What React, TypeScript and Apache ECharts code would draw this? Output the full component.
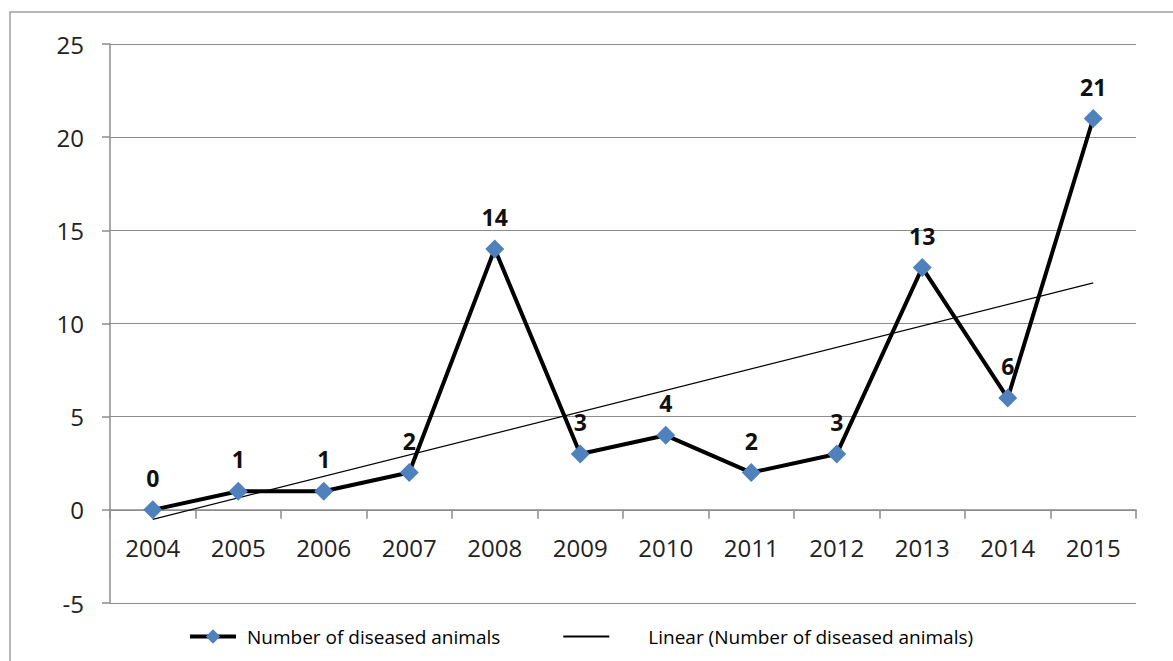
import React, { useEffect, useRef } from "react";
import * as echarts from "echarts";

const years = ["2004", "2005", "2006", "2007", "2008", "2009", "2010", "2011", "2012", "2013", "2014", "2015"];
const diseased = [0, 1, 1, 2, 14, 3, 4, 2, 3, 13, 6, 21];
// Linear trendline endpoints (first and last category)
const trendEnds = [-0.51, 12.18];
const yTicks = { min: -5, max: 25, interval: 5 };

const FONT = "'Open Sans', 'Liberation Sans', sans-serif";
const GRID = "#8c8c8c";

export default function App() {
  const ref = useRef<HTMLDivElement>(null);
  useEffect(() => {
    if (!ref.current) return;
    const chart = echarts.init(ref.current, null, { renderer: "svg" });
    chart.setOption({
      animation: false,
      backgroundColor: "#ffffff",
      textStyle: { fontFamily: FONT },
      graphic: [
        {
          type: "rect",
          shape: { x: 10, y: 12, width: 1200, height: 700 },
          style: { fill: "none", stroke: "#a0a0a0", lineWidth: 1.5 },
          silent: true,
        },
      ],
      grid: { left: 110, right: 37, top: 44, bottom: 58, containLabel: false },
      legend: {
        left: 183,
        top: 622,
        itemGap: 62,
        itemWidth: 46,
        itemHeight: 18,
        textStyle: { fontSize: 19, color: "#000", fontFamily: FONT, padding: [0, 0, 0, 6] },
        data: [
          { name: "Number of diseased animals", lineStyle: { width: 4, color: "#000" } },
          {
            name: "Linear (Number of diseased animals)",
            itemStyle: { opacity: 0 },
            textStyle: { padding: [0, 0, 0, 34] },
          },
        ],
      },
      xAxis: {
        type: "category",
        data: years,
        boundaryGap: true,
        axisLine: { onZero: true, lineStyle: { color: GRID, width: 1.5 } },
        axisTick: { show: true, length: 9, alignWithLabel: false, lineStyle: { color: GRID, width: 1.5 } },
        axisLabel: { fontSize: 24, color: "#222", margin: -68, fontFamily: FONT },
        splitLine: { show: false },
      },
      yAxis: {
        type: "value",
        min: yTicks.min,
        max: yTicks.max,
        interval: yTicks.interval,
        axisLine: { show: true, lineStyle: { color: GRID, width: 1.5 } },
        axisTick: { show: true, length: 8, lineStyle: { color: GRID, width: 1.5 } },
        axisLabel: { fontSize: 24, color: "#222", margin: 26, fontFamily: FONT },
        splitLine: { show: true, lineStyle: { color: GRID, width: 1.2 } },
      },
      series: [
        {
          name: "Linear (Number of diseased animals)",
          type: "line",
          data: [
            [0, trendEnds[0]],
            [years.length - 1, trendEnds[1]],
          ],
          showSymbol: false,
          symbol: "none",
          lineStyle: { color: "#000", width: 1.2 },
          itemStyle: { color: "#000" },
          z: 3,
        },
        {
          name: "Number of diseased animals",
          type: "line",
          data: diseased,
          symbol: "diamond",
          symbolSize: 19,
          lineStyle: { color: "#000", width: 4 },
          itemStyle: { color: "#4f81bd" },
          label: {
            show: true,
            position: "top",
            distance: 11,
            fontSize: 23,
            fontWeight: "bold",
            color: "#111",
            fontFamily: FONT,
          },
          z: 4,
        },
      ],
    });
    return () => chart.dispose();
  }, []);
  return (
    <div
      ref={ref}
      style={{ position: "fixed", left: 0, top: 0, width: 1173, height: 661 }}
    />
  );
}
